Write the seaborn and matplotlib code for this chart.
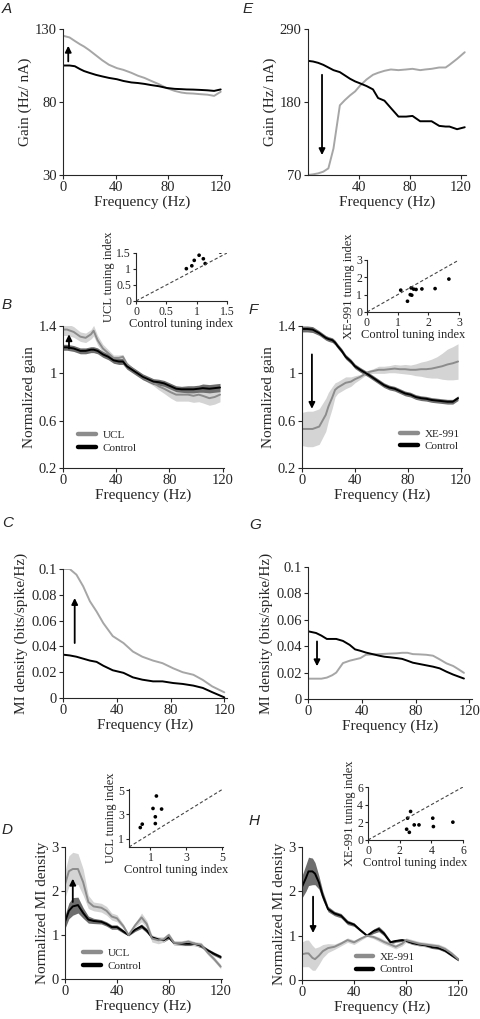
import matplotlib
matplotlib.use("Agg")
import matplotlib.pyplot as plt
import seaborn as sns
import numpy as np
from matplotlib.ticker import FuncFormatter

# ---------------- data ----------------
# Panel A: gain (Hz/nA)
A_freq = [0, 5, 9, 13, 16, 20, 25, 30, 35, 41, 46, 52, 57, 62, 67, 73, 79, 85, 90, 94, 99, 104, 110, 115, 120]
A_ucl = [125.4, 124.2, 121.8, 119.5, 118, 115.5, 112, 108.5, 105.5, 103.2, 102, 100, 98, 96.5, 94.5, 92.2,
         89.5, 87.6, 86.5, 86, 85.8, 85.4, 85, 84.2, 87]
A_ctrl = [105, 105, 104.5, 102.5, 101.2, 100, 98.6, 97.5, 96.5, 95.6, 94.4, 93.4, 93, 92.4, 91.6, 90.8,
          89.6, 89, 88.8, 88.6, 88.5, 88.3, 88, 87.6, 88.6]

# Panel E: gain (Hz/nA)
E_freq = [0, 4, 8, 12, 16, 20, 25, 29, 33, 37, 41, 46, 51, 55, 60, 65, 71, 77, 82, 88, 92, 97, 103, 108, 111, 117, 123]
E_ctrl = [242, 241, 239, 236, 232, 228, 225, 220, 215, 211, 208, 204, 199, 186, 182, 171, 158, 158, 159, 151,
          151, 151, 144, 143, 143, 139, 142]
E_xe = [70, 71, 72.5, 75, 80, 110, 175, 183, 190, 196, 205, 214, 221, 224, 227, 229, 228, 229, 230, 228,
        229, 230, 232, 232, 236, 245, 255]

# Panel B: normalized gain
B_freq = [0, 3, 8, 13, 17, 21, 23, 26, 30, 34, 38, 42, 45, 48, 52, 56, 60, 64, 68, 72, 76, 81, 85, 89, 94,
          98, 102, 105, 110, 114, 118]
B_ucl = [1.37, 1.37, 1.35, 1.31, 1.30, 1.33, 1.36, 1.28, 1.21, 1.17, 1.13, 1.13, 1.14, 1.08, 1.04, 1.00,
         0.97, 0.94, 0.92, 0.89, 0.87, 0.84, 0.82, 0.82, 0.82, 0.81, 0.82, 0.81, 0.79, 0.80, 0.82]
B_ucl_err = [0.05, 0.05, 0.045, 0.04, 0.04, 0.04, 0.045, 0.04, 0.035, 0.03, 0.025, 0.025, 0.02, 0.015, 0.01,
             0.01, 0.015, 0.02, 0.025, 0.03, 0.04, 0.05, 0.055, 0.055, 0.055, 0.055, 0.06, 0.06, 0.06, 0.06, 0.06]
B_ctrl = [1.22, 1.22, 1.21, 1.19, 1.19, 1.20, 1.20, 1.19, 1.16, 1.14, 1.11, 1.10, 1.10, 1.06, 1.03, 1.00,
          0.97, 0.95, 0.93, 0.925, 0.915, 0.89, 0.87, 0.865, 0.865, 0.865, 0.87, 0.875, 0.87, 0.875, 0.88]
B_ctrl_err = [0.025] * 24 + [0.03, 0.03, 0.03, 0.035, 0.035, 0.035, 0.035]

# Panel B inset: tuning index
Bi_ctrl = [0.83, 0.92, 0.96, 1.04, 1.11, 1.14, 1.39]
Bi_ucl = [1.01, 1.10, 1.27, 1.43, 1.32, 1.17, 1.53]

# Panel F: normalized gain
F_freq = [0, 4, 8, 13, 18, 20, 23, 25, 27, 30, 33, 37, 40, 44, 47, 50, 54, 58, 62, 66, 70, 74, 78, 82, 86,
          90, 94, 98, 102, 106, 110, 114, 118]
F_ctrl = [1.375, 1.375, 1.37, 1.34, 1.30, 1.29, 1.28, 1.26, 1.23, 1.19, 1.14, 1.10, 1.06, 1.03, 1.01, 0.99,
          0.96, 0.93, 0.90, 0.88, 0.87, 0.85, 0.83, 0.82, 0.80, 0.79, 0.785, 0.775, 0.77, 0.765, 0.76, 0.76, 0.79]
F_ctrl_err = [0.025, 0.025, 0.025] + [0.02] * 30
F_xe = [0.53, 0.53, 0.53, 0.55, 0.65, 0.72, 0.80, 0.86, 0.88, 0.90, 0.92, 0.93, 0.95, 0.97, 0.99, 1.01,
        1.02, 1.03, 1.03, 1.035, 1.04, 1.035, 1.035, 1.03, 1.03, 1.035, 1.035, 1.04, 1.05, 1.06, 1.075, 1.085, 1.10]
F_xe_err = [0.14, 0.15, 0.15, 0.15, 0.14, 0.12, 0.09, 0.06, 0.05, 0.05, 0.05, 0.04, 0.03, 0.02, 0.015, 0.015,
            0.02, 0.03, 0.03, 0.03, 0.035, 0.035, 0.04, 0.04, 0.05, 0.06, 0.07, 0.08, 0.09, 0.11, 0.13, 0.14, 0.15]

# Panel F inset
Fi_ctrl = [1.10, 1.32, 1.41, 1.44, 1.46, 1.52, 1.60, 1.79, 2.22, 2.67]
Fi_xe = [1.26, 0.62, 1.00, 1.39, 0.97, 1.32, 1.30, 1.33, 1.35, 1.90]

# Panel C: MI density
C_freq = [0, 5, 10, 15, 20, 25, 30, 37, 45, 52, 59, 67, 74, 82, 89, 97, 104, 111, 120]
C_ucl = [0.1, 0.1, 0.0956, 0.0866, 0.075, 0.067, 0.058, 0.048, 0.0426, 0.036, 0.032, 0.029, 0.027, 0.023,
         0.020, 0.018, 0.014, 0.009, 0.0044]
C_ctrl = [0.0336, 0.033, 0.032, 0.0305, 0.029, 0.028, 0.025, 0.0215, 0.0195, 0.016, 0.0142, 0.0129, 0.0129,
          0.0116, 0.0109, 0.0096, 0.0078, 0.0045, 0.0005]

# Panel G: MI density
G_freq = [0, 6, 10, 14, 18, 21, 26, 31, 35, 39, 43, 48, 53, 57, 61, 66, 70, 74, 78, 83, 88, 93, 98, 103, 108, 112, 116]
G_ctrl = [0.0513, 0.050, 0.048, 0.0455, 0.0455, 0.0455, 0.044, 0.041, 0.0376, 0.0365, 0.0352, 0.034, 0.0328,
          0.032, 0.0316, 0.031, 0.0304, 0.029, 0.0275, 0.0265, 0.0255, 0.0245, 0.0232, 0.0207, 0.0185, 0.017, 0.0155]
G_xe = [0.0154, 0.0154, 0.0154, 0.0162, 0.018, 0.020, 0.0272, 0.029, 0.030, 0.031, 0.0335, 0.0338, 0.034,
        0.0342, 0.0344, 0.0346, 0.035, 0.035, 0.034, 0.0338, 0.0335, 0.0328, 0.030, 0.027, 0.025, 0.0225, 0.0198]

# Panel D: normalized MI density
D_freq = [0, 3, 6, 10, 14, 18, 22, 28, 32, 36, 40, 45, 49, 54, 59, 63, 67, 72, 76, 80, 84, 90, 95, 100, 105, 110, 115, 120]
D_ucl = [2.15, 2.45, 2.5, 2.5, 2.2, 1.75, 1.65, 1.62, 1.55, 1.42, 1.38, 1.2, 1.0, 1.22, 1.4, 1.25, 0.92, 0.88,
         0.9, 1.0, 0.82, 0.82, 0.85, 0.8, 0.78, 0.6, 0.45, 0.28]
D_ucl_err = [0.3, 0.35, 0.38, 0.35, 0.3, 0.15, 0.1, 0.1, 0.1, 0.08, 0.08, 0.05, 0.02, 0.05, 0.1, 0.08, 0.08,
             0.08, 0.06, 0.05, 0.05, 0.05, 0.05, 0.05, 0.05, 0.05, 0.05, 0.05]
D_ctrl = [1.3, 1.55, 1.65, 1.68, 1.5, 1.35, 1.32, 1.3, 1.25, 1.18, 1.18, 1.08, 1.0, 1.12, 1.2, 1.1, 0.95, 0.9,
          0.88, 0.95, 0.82, 0.8, 0.8, 0.8, 0.75, 0.65, 0.57, 0.5]
D_ctrl_err = [0.15, 0.18, 0.2, 0.18, 0.12, 0.08, 0.06, 0.05, 0.05, 0.05, 0.05, 0.04, 0.02, 0.04, 0.05, 0.05,
              0.04, 0.04, 0.04, 0.04, 0.04, 0.04, 0.04, 0.04, 0.04, 0.04, 0.04, 0.04]

# Panel D inset
Di_ctrl = [0.43, 0.54, 1.14, 1.33, 1.27, 1.27, 1.62]
Di_ucl = [1.91, 2.19, 3.49, 4.52, 2.80, 2.24, 3.44]

# Panel H: normalized MI density
H_freq = [0, 3, 5, 8, 10, 13, 16, 20, 25, 30, 35, 40, 45, 50, 55, 59, 63, 68, 72, 77, 80, 85, 90, 95, 100,
          105, 110, 115, 120]
H_ctrl = [2.1, 2.3, 2.45, 2.45, 2.4, 2.2, 1.9, 1.6, 1.5, 1.45, 1.3, 1.25, 1.12, 1.0, 1.1, 1.15, 1.05, 0.85,
          0.88, 0.9, 0.88, 0.83, 0.8, 0.78, 0.74, 0.72, 0.66, 0.56, 0.46]
H_ctrl_err = [0.25, 0.3, 0.32, 0.3, 0.25, 0.15, 0.1, 0.06, 0.05, 0.05, 0.05, 0.04, 0.03, 0.02, 0.05, 0.06,
              0.05, 0.04] + [0.03] * 11
H_xe = [0.58, 0.6, 0.6, 0.5, 0.47, 0.55, 0.65, 0.72, 0.75, 0.82, 0.9, 0.85, 0.93, 1.0, 0.97, 0.92, 0.86, 0.8,
        0.75, 0.82, 0.9, 0.86, 0.82, 0.8, 0.78, 0.76, 0.7, 0.6, 0.47]
H_xe_err = [0.28, 0.3, 0.3, 0.28, 0.25, 0.2, 0.15, 0.1, 0.06, 0.05, 0.05, 0.05, 0.04, 0.02, 0.04] + [0.05] * 12 + [0.04, 0.04]

# Panel H inset
Hi_ctrl = [2.69, 2.50, 2.44, 2.61, 2.92, 3.22, 4.09, 4.13, 5.36]
Hi_xe = [3.23, 2.47, 1.22, 0.87, 1.71, 1.71, 2.47, 1.52, 2.02]

# Arrows (x, y_start, y_end)
arrow_A = (4, 107.8, 118.5)
arrow_E = (11, 221, 100)
arrow_B = (4.5, 1.21, 1.33)
arrow_F = (7.5, 1.16, 0.70)
arrow_C = (8.7, 0.0426, 0.0775)
arrow_G = (6.7, 0.0436, 0.0248)
arrow_D = (6, 1.75, 2.28)
arrow_H = (8.5, 1.88, 1.06)

# ---------------- style ----------------
sns.set_style("ticks")
plt.rcParams["font.family"] = ["Liberation Serif", "DejaVu Serif"]
plt.rcParams["axes.linewidth"] = 0.8
plt.rcParams["xtick.major.width"] = 0.8
plt.rcParams["ytick.major.width"] = 0.8
plt.rcParams["xtick.major.size"] = 3
plt.rcParams["ytick.major.size"] = 3
plt.rcParams["xtick.direction"] = "out"
plt.rcParams["ytick.direction"] = "out"

W, H = 480, 1019
fig = plt.figure(figsize=(W / 100, H / 100), dpi=100)


def rect(l, t, r, b):
    return [l / W, 1 - b / H, (r - l) / W, (b - t) / H]


LIGHT_LINE = "#a6a6a6"
MID_LINE = "#8c8c8c"
LIGHT_BAND = "#d4d4d4"
DARK_BAND = "#6e6e6e"
FS_TICK = 10.5
FS_LAB = 11
FS_IN = 8.5

fmt = FuncFormatter(lambda v, p: "%g" % v)


def style(ax, xlim, ylim, xticks, yticks, ylabel, xlabel="Frequency (Hz)"):
    ax.set_xlim(*xlim)
    ax.set_ylim(*ylim)
    ax.set_xticks(xticks)
    ax.set_yticks(yticks)
    ax.xaxis.set_major_formatter(fmt)
    ax.yaxis.set_major_formatter(fmt)
    ax.tick_params(labelsize=FS_TICK, pad=1.5)
    ax.set_ylabel(ylabel, fontsize=FS_LAB, labelpad=2)
    if xlabel:
        ax.set_xlabel(xlabel, fontsize=FS_LAB, labelpad=1)
    sns.despine(ax=ax)


def arrow(ax, a):
    x, y0, y1 = a
    ax.annotate("", xy=(x, y1), xytext=(x, y0),
                arrowprops=dict(arrowstyle="-|>", color="black", lw=1.3, mutation_scale=9,
                                shrinkA=0, shrinkB=0))


def band_line(ax, f, m, e, line_c, band_c, lw=1.4):
    f = np.asarray(f); m = np.asarray(m); e = np.asarray(e)
    ax.fill_between(f, m - e, m + e, color=band_c, lw=0)
    sns.lineplot(x=f, y=m, color=line_c, lw=lw, ax=ax)


def inset(rc, xv, yv, lim, ticks, xlabel, ylabel):
    ax = fig.add_axes(rect(*rc))
    ax.plot([0, 1], [0, 1], transform=ax.transAxes, ls=(0, (3, 2)), color="#444444", lw=0.8)
    sns.scatterplot(x=xv, y=yv, s=7, color="black", edgecolor="none", ax=ax)
    ax.set_xlim(*lim[0])
    ax.set_ylim(*lim[1])
    ax.set_xticks(ticks)
    ax.set_yticks(ticks)
    ax.xaxis.set_major_formatter(fmt)
    ax.yaxis.set_major_formatter(fmt)
    ax.tick_params(labelsize=FS_IN, pad=1, length=2.5)
    ax.set_xlabel(xlabel, fontsize=FS_IN + 0.5, labelpad=0)
    ax.set_ylabel(ylabel, fontsize=FS_IN + 0.5, labelpad=1)
    sns.despine(ax=ax)
    return ax


def legend(ax, names, colors, anchor):
    from matplotlib.lines import Line2D
    hs = [Line2D([0], [0], color=c, lw=3.2) for c in colors]
    ax.legend(hs, names, loc="lower left", bbox_to_anchor=anchor, frameon=False, fontsize=8,
              handlelength=1.6, handletextpad=0.6, labelspacing=0.25, borderpad=0)


def panel_label(x, y, s):
    fig.text(x / W, 1 - y / H, s, fontsize=11, style="italic", family="Liberation Sans", va="top", ha="left")


# ---------------- A ----------------
ax = fig.add_axes(rect(63, 29, 222, 175))
sns.lineplot(x=A_freq, y=A_ucl, color=LIGHT_LINE, lw=1.4, ax=ax)
sns.lineplot(x=A_freq, y=A_ctrl, color="black", lw=1.4, ax=ax)
arrow(ax, arrow_A)
style(ax, (0, 121), (30, 130), [0, 40, 80, 120], [30, 80, 130], "Gain (Hz/ nA)")

# ---------------- E ----------------
ax = fig.add_axes(rect(308, 29, 466, 175))
sns.lineplot(x=E_freq, y=E_xe, color=LIGHT_LINE, lw=1.4, ax=ax)
sns.lineplot(x=E_freq, y=E_ctrl, color="black", lw=1.4, ax=ax)
arrow(ax, arrow_E)
style(ax, (0, 124), (70, 290), [40, 80, 120], [70, 180, 290], "Gain (Hz/ nA)")

# ---------------- B ----------------
ax = fig.add_axes(rect(63, 326, 224, 468))
band_line(ax, B_freq, B_ucl, B_ucl_err, MID_LINE, LIGHT_BAND)
band_line(ax, B_freq, B_ctrl, B_ctrl_err, "black", DARK_BAND)
arrow(ax, arrow_B)
style(ax, (0, 121), (0.2, 1.4), [0, 40, 80, 120], [0.2, 0.6, 1, 1.4], "Normalized gain")
legend(ax, ["UCL", "Control"], [MID_LINE, "black"], (0.06, 0.07))
inset((136, 253, 227, 301), Bi_ctrl, Bi_ucl, ((0, 1.5), (0, 1.5)), [0, 0.5, 1, 1.5],
      "Control tuning index", "UCL tuning index")

# ---------------- F ----------------
ax = fig.add_axes(rect(302, 326, 462, 468))
band_line(ax, F_freq, F_xe, F_xe_err, MID_LINE, LIGHT_BAND)
band_line(ax, F_freq, F_ctrl, F_ctrl_err, "black", DARK_BAND)
arrow(ax, arrow_F)
style(ax, (0, 121), (0.2, 1.4), [0, 40, 80, 120], [0.2, 0.6, 1, 1.4], "Normalized gain")
legend(ax, ["XE-991", "Control"], [MID_LINE, "black"], (0.58, 0.08))
inset((367, 260, 459, 312), Fi_ctrl, Fi_xe, ((0, 3), (0, 3)), [0, 1, 2, 3],
      "Control tuning index", "XE-991 tuning index")

# ---------------- C ----------------
ax = fig.add_axes(rect(63, 569, 227, 698))
sns.lineplot(x=C_freq, y=C_ucl, color=LIGHT_LINE, lw=1.4, ax=ax)
sns.lineplot(x=C_freq, y=C_ctrl, color="black", lw=1.4, ax=ax)
arrow(ax, arrow_C)
style(ax, (0, 122), (0, 0.1), [0, 40, 80, 120], [0, 0.02, 0.04, 0.06, 0.08, 0.1], "MI density (bits/spike/Hz)")

# ---------------- G ----------------
ax = fig.add_axes(rect(308, 567, 472, 699))
sns.lineplot(x=G_freq, y=G_xe, color=LIGHT_LINE, lw=1.4, ax=ax)
sns.lineplot(x=G_freq, y=G_ctrl, color="black", lw=1.4, ax=ax)
arrow(ax, arrow_G)
style(ax, (0, 122), (0, 0.1), [0, 40, 80, 120], [0, 0.02, 0.04, 0.06, 0.08, 0.1], "MI density (bits/spike/Hz)")

# ---------------- D ----------------
ax = fig.add_axes(rect(65, 847, 222, 979))
band_line(ax, D_freq, D_ctrl, D_ctrl_err, "black", DARK_BAND)
band_line(ax, D_freq, D_ucl, D_ucl_err, MID_LINE, LIGHT_BAND)
arrow(ax, arrow_D)
style(ax, (0, 121), (0, 3), [0, 40, 80, 120], [0, 1, 2, 3], "Normalized MI density")
legend(ax, ["UCL", "Control"], [MID_LINE, "black"], (0.08, 0.02))
inset((129, 789, 223, 847), Di_ctrl, Di_ucl, ((-0.2, 5.05), (0.3, 5.1)), [1, 3, 5],
      "Control tuning index", "UCL tuning index")

# ---------------- H ----------------
ax = fig.add_axes(rect(302, 847, 462, 980))
band_line(ax, H_freq, H_ctrl, H_ctrl_err, "black", DARK_BAND)
band_line(ax, H_freq, H_xe, H_xe_err, MID_LINE, LIGHT_BAND)
arrow(ax, arrow_H)
style(ax, (0, 123), (0, 3), [0, 40, 80, 120], [0, 1, 2, 3], "Normalized MI density")
legend(ax, ["XE-991", "Control"], [MID_LINE, "black"], (0.3, 0.0))
inset((368, 787, 463, 840), Hi_ctrl, Hi_xe, ((0, 6), (0, 6)), [0, 2, 4, 6],
      "Control tuning index", "XE-991 tuning index")

# panel labels
panel_label(2, 2, "A")
panel_label(243, 2, "E")
panel_label(2, 298, "B")
panel_label(249, 303, "F")
panel_label(2, 516, "C")
panel_label(249, 518, "G")
panel_label(2, 823, "D")
panel_label(249, 814, "H")

fig.savefig("out.png", dpi=100)
